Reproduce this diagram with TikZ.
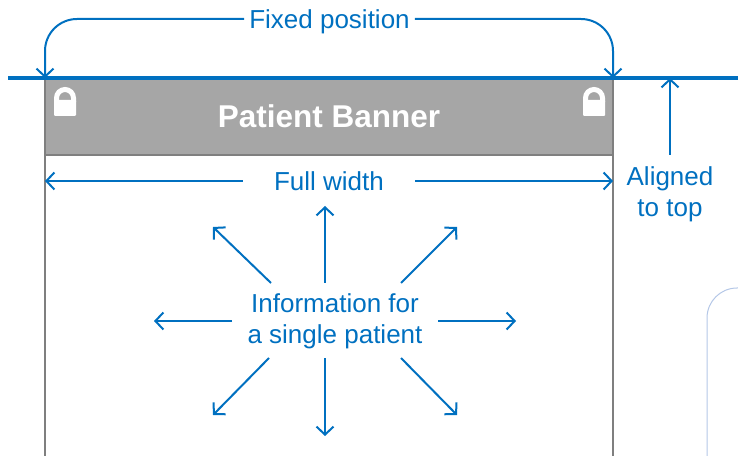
\documentclass[tikz,border=0pt]{standalone}
\usepackage{fontspec}
\setmainfont{Liberation Sans}
\usetikzlibrary{arrows.meta}
\definecolor{nhsblue}{HTML}{0070C0}
\definecolor{bannergrey}{HTML}{A6A6A6}
\definecolor{edgegrey}{HTML}{7F7F7F}
\definecolor{paleblue}{HTML}{B4C7E7}
\begin{document}
\begin{tikzpicture}[x=1pt, y=1pt,
arr/.style={draw=nhsblue, line width=2pt, -{Straight Barb[length=8pt, width=17pt]}},
lbl/.style={text=nhsblue, font=\fontsize{26}{31}\selectfont, text height=18.6pt, text depth=0pt, inner xsep=5pt, inner ysep=0pt},
multi/.style={text=nhsblue, font=\fontsize{26}{31}\selectfont, align=center, inner sep=0pt},
banner/.style={rectangle, draw=edgegrey, fill=bannergrey, line width=2pt, outer sep=0pt, minimum width=568pt, minimum height=77pt, text=white, font=\bfseries\fontsize{31.5}{36}\selectfont, text height=22.5pt, text depth=0pt},
padlock/.pic={
  \fill[white, rounded corners=1pt] (-11,-8) rectangle (11,8);
  \draw[white, line width=5pt] (-8.5,6) -- (-8.5,10) arc (180:0:8.5) -- (8.5,6);
}
]
\useasboundingbox (0,0) rectangle (738,455);
\clip (0,0) rectangle (738,455);
%Nodes
\node[banner] (banner) at (329,338.5) {Patient Banner};
\node[lbl]    (fixed)  at (329.5,436) {Fixed position};
\node[lbl, inner xsep=31pt] (full) at (329,274) {Full width};
\node[multi, anchor=north, inner ysep=11pt] (aligned) at (670,300) {Aligned\\to top};
\node[multi]  (info)   at (335,134)   {Information for\\a single patient};
\coordinate (topL)  at (8,377);
\coordinate (topR)  at (738,377);
\coordinate (bodyL) at (45,-5);
\coordinate (bodyR) at (613,-5);
%Locks
\pic at (65,347) {padlock};
\pic at (594,347) {padlock};
%Body
\draw[edgegrey, line width=2pt] (banner.south west) -- (bodyL);
\draw[edgegrey, line width=2pt] (banner.south east) -- (bodyR);
\draw[paleblue, line width=1pt, rounded corners=30pt] (707,-5) -- (707,167) -- (760,167);
%Lines
\draw[nhsblue, line width=3.5pt] (topL) -- (topR);
\draw[arr, rounded corners=32pt] (fixed.west) -| (banner.north west);
\draw[arr, rounded corners=32pt] (fixed.east) -| (banner.north east);
\draw[arr] (full.west) -- (full -| banner.west);
\draw[arr] (full.east) -- (full -| banner.east);
\draw[arr] (aligned.north) -- (aligned.north |- topR);
\foreach \n/\sx/\sy/\ex/\ey in {n/325/172/325/249, s/325/97/325/19, w/232/134/154/134, e/438/134/516/134,
  nw/271/172/213/228, ne/401/172/457/228, sw/269/97/213/40, se/401/97/457/40}{
  \coordinate (\n-s) at (\sx,\sy);
  \coordinate (\n-e) at (\ex,\ey);
  \draw[arr] (\n-s) -- (\n-e);
}
\end{tikzpicture}
\end{document}
